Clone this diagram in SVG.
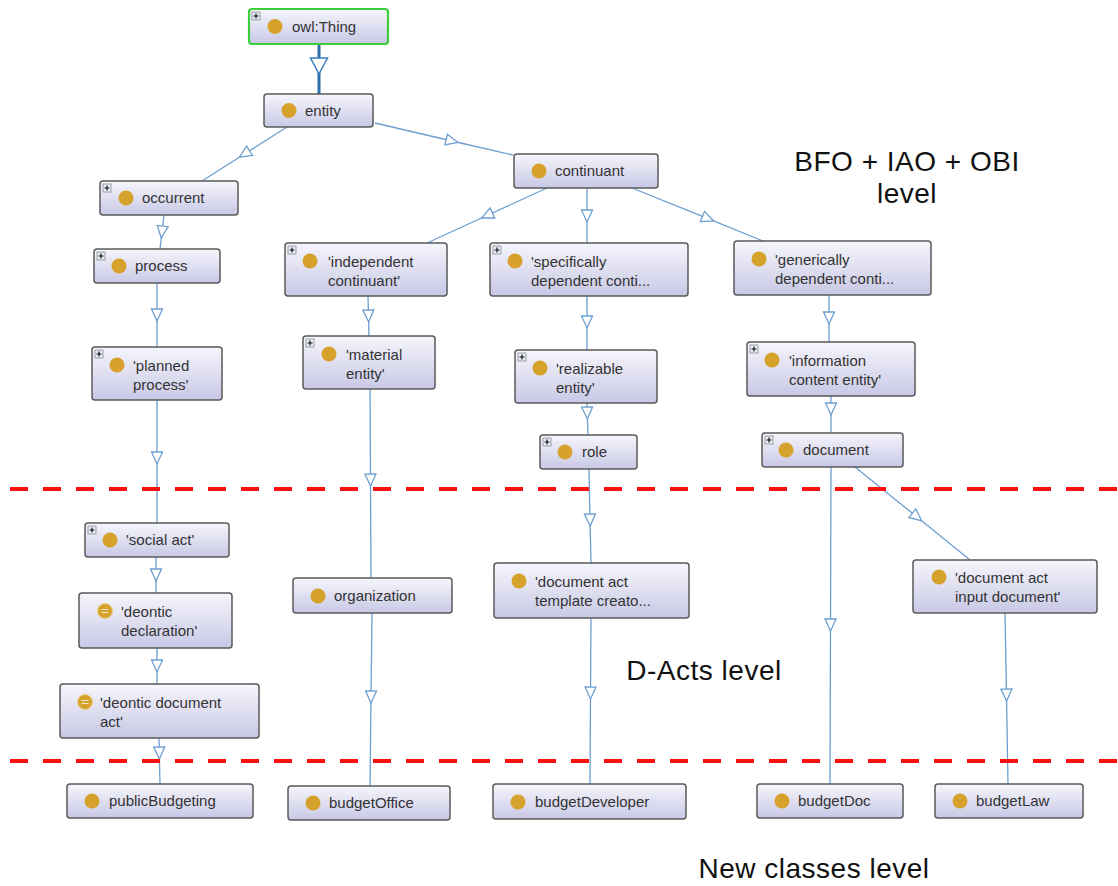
<svg xmlns="http://www.w3.org/2000/svg" width="1118" height="886" viewBox="0 0 1118 886">
<style>
.box{fill:url(#g);stroke:#5a5a5a;stroke-width:1.5}
.root{fill:url(#g);stroke:#3ccc3c;stroke-width:2.2}
.lbl{font-family:"Liberation Sans",Arial,sans-serif;font-size:15px;fill:#333}
.ic{fill:#d6a22c}
.big{font-family:"Liberation Sans",Arial,sans-serif;font-size:28px;letter-spacing:0.5px;fill:#111}
.edge{fill:none;stroke:#6c9fd0;stroke-width:1.3;marker-mid:url(#tri)}
.thick{fill:none;stroke:#2f6fae;stroke-width:3;marker-mid:url(#tri2)}
.dash{stroke:#ff1010;stroke-width:4;stroke-dasharray:18 15}
</style>
<defs>
<linearGradient id="g" x1="0" y1="0" x2="0" y2="1">
<stop offset="0" stop-color="#f6f6fc"/>
<stop offset="1" stop-color="#c8c8e6"/>
</linearGradient>
<marker id="tri" markerUnits="userSpaceOnUse" markerWidth="16" markerHeight="16" viewBox="-8 -8 16 16" refX="0" refY="0" orient="auto">
<path d="M-6,-5.5 L6,0 L-6,5.5 Z" fill="#fff" stroke="#6c9fd0" stroke-width="1.3"/>
</marker>
<marker id="tri2" markerUnits="userSpaceOnUse" markerWidth="22" markerHeight="22" viewBox="-11 -11 22 22" refX="0" refY="0" orient="auto">
<path d="M-8,-8.5 L8,0 L-8,8.5 Z" fill="#fff" stroke="#3a7abf" stroke-width="1.5"/>
</marker>
<g id="plus">
<rect x="0" y="0" width="8" height="8" fill="#e6eef8" stroke="#8a8a8a" stroke-width="0.8"/>
<path d="M1.5,4 H6.5 M4,1.5 V6.5" stroke="#111" stroke-width="1.2"/>
</g>
<g id="eq">
<circle r="7.5" fill="#d6a22c" stroke="#ecd08a" stroke-width="1"/>
<path d="M-3.5,-1.5 H3.5 M-3.5,1.5 H3.5" stroke="#f1e6c6" stroke-width="1.2"/>
</g>
</defs>
<rect width="1118" height="886" fill="#fff"/>

<g id="connectors">
<path class="thick" d="M319,44 L319,66 L319,94"/>
<path class="edge" d="M287,127 L244.5,154 L202,181"/>
<path class="edge" d="M375,123 L452,141 L513,155"/>
<path class="edge" d="M164,215 L162,232 L160,249"/>
<path class="edge" d="M157,283 L157,315 L157,347"/>
<path class="edge" d="M157,400 L157,458 L157,523"/>
<path class="edge" d="M156,557 L156,575 L156,593"/>
<path class="edge" d="M157,648 L157,666 L157,684"/>
<path class="edge" d="M159,738 L159.3,753 L160,784"/>
<path class="edge" d="M547,188 L487,215.5 L427,243"/>
<path class="edge" d="M587,188 L587,216 L587,243"/>
<path class="edge" d="M632,188 L708,218.7 L763,241"/>
<path class="edge" d="M368,296 L368.5,316 L369,336"/>
<path class="edge" d="M370,389 L370.5,480 L371,578"/>
<path class="edge" d="M372,613 L371,697 L370,786"/>
<path class="edge" d="M587,296 L587,322 L587,350"/>
<path class="edge" d="M587,403 L587.3,413 L588,435"/>
<path class="edge" d="M589,469 L590,520 L591,563"/>
<path class="edge" d="M591,618 L590.5,693 L590,784"/>
<path class="edge" d="M829,295 L829,318 L829,342"/>
<path class="edge" d="M831,396 L831,409 L831,432"/>
<path class="edge" d="M831,467 L830.5,625 L830,784"/>
<path class="edge" d="M855,467 L917,517 L970,560"/>
<path class="edge" d="M1005,613 L1006.5,695 L1008,784"/>
</g>

<g id="separators">
<line class="dash" x1="10" y1="489" x2="1118" y2="489"/>
<line class="dash" x1="10" y1="761" x2="1118" y2="761"/>
</g>

<g id="level-labels">
<text class="big" x="907" y="171" text-anchor="middle">BFO + IAO + OBI</text>
<text class="big" x="907" y="203" text-anchor="middle">level</text>
<text class="big" x="704" y="680" text-anchor="middle">D-Acts level</text>
<text class="big" x="814" y="878" text-anchor="middle">New classes level</text>
</g>

<g id="owl-Thing"><rect class="root" x="249" y="9" width="139" height="35" rx="3"/><use href="#plus" x="252" y="12"/><circle class="ic" cx="275" cy="26.5" r="7.5"/><text class="lbl" x="292" y="32">owl:Thing</text></g>
<g id="entity"><rect class="box" x="264" y="94" width="109" height="33" rx="3"/><circle class="ic" cx="289" cy="110.5" r="7.5"/><text class="lbl" x="305" y="116">entity</text></g>
<g id="continuant"><rect class="box" x="514" y="154" width="144" height="34" rx="3"/><circle class="ic" cx="539" cy="171" r="7.5"/><text class="lbl" x="555" y="176">continuant</text></g>
<g id="occurrent"><rect class="box" x="100" y="181" width="138" height="34" rx="3"/><use href="#plus" x="103" y="184"/><circle class="ic" cx="126" cy="198" r="7.5"/><text class="lbl" x="142" y="203">occurrent</text></g>
<g id="process"><rect class="box" x="94" y="249" width="126" height="34" rx="3"/><use href="#plus" x="97" y="252"/><circle class="ic" cx="119" cy="266" r="7.5"/><text class="lbl" x="135" y="271">process</text></g>
<g id="planned-process"><rect class="box" x="92" y="347" width="130" height="53" rx="3"/><use href="#plus" x="95" y="350"/><circle class="ic" cx="117" cy="365" r="7.5"/><text class="lbl" x="133" y="371">'planned</text><text class="lbl" x="133" y="390">process'</text></g>
<g id="social-act"><rect class="box" x="85" y="523" width="144" height="34" rx="3"/><use href="#plus" x="88" y="526"/><circle class="ic" cx="110" cy="540" r="7.5"/><text class="lbl" x="126" y="545">'social act'</text></g>
<g id="deontic-declaration"><rect class="box" x="79" y="593" width="153" height="55" rx="3"/><use href="#eq" x="105" y="611"/><text class="lbl" x="121" y="617">'deontic</text><text class="lbl" x="121" y="636">declaration'</text></g>
<g id="deontic-document-act"><rect class="box" x="60" y="684" width="199" height="54" rx="3"/><use href="#eq" x="85" y="702"/><text class="lbl" x="100" y="708">'deontic document</text><text class="lbl" x="100" y="727">act'</text></g>
<g id="publicBudgeting"><rect class="box" x="67" y="784" width="186" height="34" rx="3"/><circle class="ic" cx="92" cy="801" r="7.5"/><text class="lbl" x="109" y="806">publicBudgeting</text></g>
<g id="independent-continuant"><rect class="box" x="285" y="243" width="162" height="53" rx="3"/><use href="#plus" x="288" y="246"/><circle class="ic" cx="310" cy="261" r="7.5"/><text class="lbl" x="328" y="267">'independent</text><text class="lbl" x="328" y="286">continuant'</text></g>
<g id="material-entity"><rect class="box" x="303" y="336" width="132" height="53" rx="3"/><use href="#plus" x="306" y="339"/><circle class="ic" cx="329" cy="354" r="7.5"/><text class="lbl" x="346" y="360">'material</text><text class="lbl" x="346" y="379">entity'</text></g>
<g id="organization"><rect class="box" x="293" y="578" width="159" height="35" rx="3"/><circle class="ic" cx="318" cy="596" r="7.5"/><text class="lbl" x="334" y="601">organization</text></g>
<g id="budgetOffice"><rect class="box" x="288" y="786" width="162" height="34" rx="3"/><circle class="ic" cx="313" cy="803" r="7.5"/><text class="lbl" x="329" y="808">budgetOffice</text></g>
<g id="specifically-dependent"><rect class="box" x="490" y="243" width="198" height="53" rx="3"/><use href="#plus" x="493" y="246"/><circle class="ic" cx="515" cy="261" r="7.5"/><text class="lbl" x="531" y="267">'specifically</text><text class="lbl" x="531" y="286">dependent conti...</text></g>
<g id="realizable-entity"><rect class="box" x="515" y="350" width="142" height="53" rx="3"/><use href="#plus" x="518" y="353"/><circle class="ic" cx="540" cy="368" r="7.5"/><text class="lbl" x="556" y="374">'realizable</text><text class="lbl" x="556" y="393">entity'</text></g>
<g id="role"><rect class="box" x="540" y="435" width="97" height="34" rx="3"/><use href="#plus" x="543" y="438"/><circle class="ic" cx="565" cy="452" r="7.5"/><text class="lbl" x="582" y="457">role</text></g>
<g id="document-act-template-creator"><rect class="box" x="494" y="563" width="195" height="55" rx="3"/><circle class="ic" cx="519" cy="581" r="7.5"/><text class="lbl" x="535" y="587">'document act</text><text class="lbl" x="535" y="606">template creato...</text></g>
<g id="budgetDeveloper"><rect class="box" x="493" y="784" width="193" height="35" rx="3"/><circle class="ic" cx="518" cy="802" r="7.5"/><text class="lbl" x="535" y="807">budgetDeveloper</text></g>
<g id="generically-dependent"><rect class="box" x="734" y="241" width="197" height="54" rx="3"/><circle class="ic" cx="759" cy="259" r="7.5"/><text class="lbl" x="775" y="265">'generically</text><text class="lbl" x="775" y="284">dependent conti...</text></g>
<g id="information-content-entity"><rect class="box" x="747" y="342" width="168" height="54" rx="3"/><use href="#plus" x="750" y="345"/><circle class="ic" cx="772" cy="360" r="7.5"/><text class="lbl" x="789" y="366">'information</text><text class="lbl" x="789" y="385">content entity'</text></g>
<g id="document"><rect class="box" x="762" y="433" width="141" height="34" rx="3"/><use href="#plus" x="765" y="436"/><circle class="ic" cx="786" cy="450" r="7.5"/><text class="lbl" x="803" y="455">document</text></g>
<g id="document-act-input-document"><rect class="box" x="913" y="560" width="184" height="53" rx="3"/><circle class="ic" cx="939" cy="577" r="7.5"/><text class="lbl" x="955" y="583">'document act</text><text class="lbl" x="955" y="602">input document'</text></g>
<g id="budgetDoc"><rect class="box" x="757" y="784" width="146" height="34" rx="3"/><circle class="ic" cx="782" cy="801" r="7.5"/><text class="lbl" x="798" y="806">budgetDoc</text></g>
<g id="budgetLaw"><rect class="box" x="935" y="784" width="148" height="34" rx="3"/><circle class="ic" cx="960" cy="801" r="7.5"/><text class="lbl" x="976" y="806">budgetLaw</text></g>
</svg>
